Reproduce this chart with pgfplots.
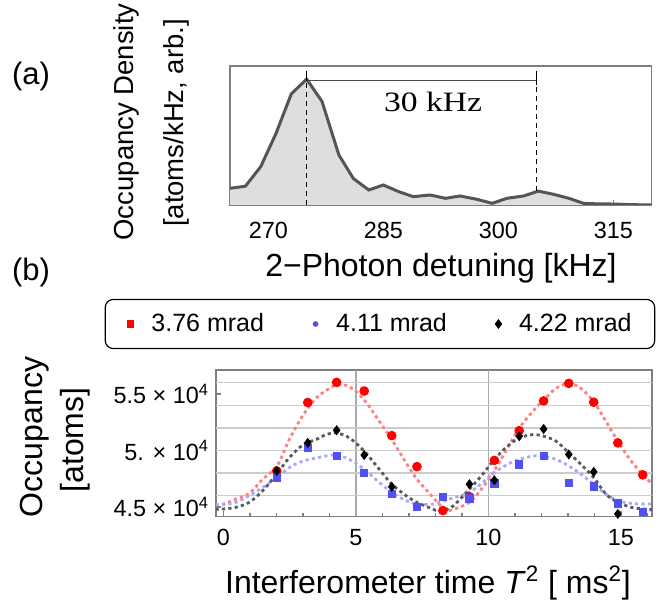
\documentclass[border=0pt]{standalone}
\usepackage{fontspec}
\setmainfont{Liberation Sans}
\newfontfamily\timesfont{Liberation Serif}
\usepackage{pgfplots}
\usepackage{pgfplotstable}
\pgfplotsset{compat=1.18}

\definecolor{MRed}{HTML}{FF0000}
\definecolor{MRedFit}{HTML}{FF8080}
\definecolor{MBlue}{HTML}{5050F5}
\definecolor{MBlueFit}{HTML}{A8A8FF}
\definecolor{MGrayFit}{HTML}{5A5A5A}
\definecolor{Frame}{HTML}{7F7F7F}
\definecolor{GridH}{HTML}{CCCCCC}
\definecolor{GridV}{HTML}{AAAAAA}
\definecolor{Spec}{HTML}{555555}
\definecolor{SpecFill}{HTML}{DEDEDE}

\newcommand{\tickfont}{\fontsize{11.7}{13}\selectfont}
\newcommand{\labfont}{\fontsize{16}{19}\selectfont}

% spectrum, panel (a)
\pgfplotstableread{
khz val
265 0.12
267 0.135
269 0.275
271 0.515
273 0.80
275 0.905
277 0.745
279.2 0.36
281.1 0.19
283.1 0.108
285 0.144
287 0.096
288.9 0.06
291.1 0.072
293.1 0.048
295 0.065
297.2 0.041
299.2 0.012
301.1 0.048
303.3 0.065
305.2 0.10
307.2 0.077
309.2 0.048
311.1 0.012
313 0.008
315 0.007
317 0.003
320 0.0
}\spectrum

% measured occupancy, panel (b)
\pgfplotstableread{
t red blue
2.01 48190 47545
3.18 54245 50237
4.27 56025 49509
5.31 55262 48044
6.35 51316 46141
7.30 48570 44975
8.28 44685 45913
9.28 45913 45764
10.22 49123 47080
11.16 51754 48772
12.08 54385 49509
13.03 55937 47167
13.97 54271 46816
14.88 50675 45325
15.82 47843 44536
}\occ

\pgfplotstableread{
t black
2.01 48193
3.18 50675
4.27 51789
5.31 49596
6.35 46790
9.28 47018
10.22 47369
11.16 51263
12.08 51903
13.03 49649
13.97 48106
14.88 44387
}\occblack

% fitted curves
\pgfplotstableread{
t red
-0.3 45200
0 45264
0.47 45700
0.97 46200
1.48 47457
2.02 48632
2.48 50965
3.01 53157
3.49 54622
3.87 55300
4.27 55788
4.75 55648
5.31 54473
5.88 52578
6.35 50965
6.89 48921
7.30 47457
7.89 45900
8.2 45100
8.52 44690
9.28 45413
9.78 46729
10.22 48193
10.72 50237
11.16 51991
11.67 53455
12.08 54473
12.55 55500
13.03 55937
13.49 55500
13.97 54330
14.43 52578
14.88 50824
15.38 49070
15.82 47895
16.3 46729
}\fitred

\pgfplotstableread{
t blue
-0.3 45200
0 45211
0.47 45413
0.97 46000
1.48 46729
2.02 47606
2.48 48483
3.01 49070
3.87 49509
4.27 49597
4.75 49211
5.31 48334
5.88 47167
6.35 46290
6.89 45562
7.30 45264
7.89 45250
8.52 45700
9.28 46290
9.78 47167
10.22 48044
10.72 48772
11.16 49211
11.67 49509
12.08 49509
12.55 49211
13.03 48632
13.49 47895
13.97 47018
14.43 46141
14.88 45562
15.38 45325
15.82 45264
16.3 45264
}\fitblue

\pgfplotstableread{
t black
-0.3 44800
0 44826
0.47 44975
0.97 45413
1.48 46440
2.02 47957
2.48 49360
3.01 50526
3.49 50965
3.87 51403
4.27 51552
4.75 51114
5.31 49947
5.88 48334
6.35 47018
6.89 46000
7.30 45413
7.89 44826
8.1 44685
8.6 44975
9.28 46580
9.78 47895
10.22 49211
10.72 50386
11.16 51114
11.67 51403
12.08 51263
12.55 50824
13.03 49800
13.49 48772
13.97 47606
14.43 46141
14.88 45413
15.38 44975
15.82 44826
16.3 44738
}\fitblack

\begin{document}
\begin{tikzpicture}
\path[use as bounding box] (0pt,0pt) rectangle (332pt,-304pt);

% ---- panel (a) ----
\begin{axis}[
  at={(115pt,-102.5pt)}, anchor=south west,
  scale only axis, width=210.85pt, height=69.5pt,
  xmin=265, xmax=320, ymin=0, ymax=1,
  axis line style={Frame, line width=0.75pt},
  xtick={270,285,300,315}, ytick=\empty,
  tick align=inside, xtick pos=left, major tick length=2.5pt,
  tick style={Frame, line width=0.6pt},
  xticklabel style={font=\tickfont, yshift=-5pt},
  /pgf/number format/assume math mode=true,
]
\addplot[draw=none, fill=SpecFill] table[x=khz, y=val] {\spectrum} \closedcycle;
\addplot[draw=Spec, line width=1.5pt] table[x=khz, y=val] {\spectrum};
\addplot[black, line width=0.5pt, dash pattern=on 2.5pt off 2pt] coordinates {(275,0) (275,0.895)};
\addplot[black, line width=0.6pt] coordinates {(275,0.895) (275,0.965)};
\addplot[black!70, line width=0.45pt] coordinates {(275,0.895) (305,0.895)};
\addplot[black, line width=0.5pt, dash pattern=on 2.5pt off 2pt] coordinates {(305,0.10) (305,0.86)};
\addplot[black, line width=0.6pt] coordinates {(305,0.86) (305,0.965)};
\node[font=\timesfont\fontsize{14}{16}\selectfont, xscale=1.2] at (axis cs:291.5,0.74) {30 kHz};
\end{axis}

% ---- panel (b) ----
\begin{axis}[
  at={(108pt,-258.25pt)}, anchor=south west,
  scale only axis, width=218pt, height=73.25pt,
  xmin=-0.283, xmax=16.17, ymin=44160, ymax=57120,
  axis line style={Frame, line width=0.75pt},
  xtick={0,5,10,15}, minor xtick={1,2,3,4,6,7,8,9,11,12,13,14,16},
  ytick={45000,50000,55000},
  yticklabels={{4.5 × 10\textsuperscript{4}},{5. × 10\textsuperscript{4}},{5.5 × 10\textsuperscript{4}}},
  scaled y ticks=false,
  extra x ticks={5,10}, extra x tick labels={},
  extra x tick style={grid=major, major grid style={GridV, line width=0.6pt}, major tick length=0pt},
  extra y ticks={46000,48000,50000,52000,54000,56000}, extra y tick labels={},
  extra y tick style={grid=major, major grid style={GridH, line width=0.75pt}, major tick length=0pt},
  tick align=inside, xtick pos=left, ytick pos=left,
  major tick length=2.5pt, minor tick length=1.5pt,
  tick style={Frame, line width=0.6pt},
  xticklabel style={font=\tickfont, yshift=-3pt},
  yticklabel style={font=\tickfont},
  /pgf/number format/assume math mode=true,
  legend columns=3,
  legend image code/.code={\path (-3pt,0pt) (3pt,0pt); \draw[#1, sharp corners] plot coordinates {(0pt,0pt)};},
  legend style={at={(0.376,1.314)}, anchor=center, draw=black, line width=0.6pt,
    rounded corners=4pt, font=\fontsize{12.5}{14}\selectfont,
    inner xsep=9.5pt, inner ysep=5pt,
    /tikz/every odd column/.append style={column sep=5pt},
    /tikz/every even column/.append style={column sep=20.5pt}},
]
\addplot[forget plot, MRedFit, line width=1.4pt, dash pattern=on 1.6pt off 1.6pt, smooth] table[x=t, y=red] {\fitred};
\addplot[forget plot, MBlueFit, line width=1.4pt, dash pattern=on 1.6pt off 1.6pt, smooth] table[x=t, y=blue] {\fitblue};
\addplot[forget plot, MGrayFit, line width=1.4pt, dash pattern=on 1.6pt off 1.6pt, smooth] table[x=t, y=black] {\fitblack};
\addplot[forget plot, only marks, mark=*, mark size=2.2pt, MRed] table[x=t, y=red] {\occ};
\addplot[forget plot, only marks, mark=square*, mark size=1.8pt, MBlue] table[x=t, y=blue] {\occ};
\addplot[forget plot, only marks, mark=diamond*, mark size=2.2pt, black] table[x=t, y=black] {\occblack};
\addlegendimage{only marks, mark=square*, mark size=1.5pt, MRed}
\addlegendentry{3.76 mrad}
\addlegendimage{only marks, mark=*, mark size=1.1pt, MBlue}
\addlegendentry{4.11 mrad}
\addlegendimage{only marks, mark=diamond*, mark size=2pt, black}
\addlegendentry{4.22 mrad}
\end{axis}

% ---- labels ----
\node[font=\fontsize{15.5}{18}\selectfont] at (15.5pt,-38pt) {(a)};
\node[font=\fontsize{15.5}{18}\selectfont] at (15.5pt,-136pt) {(b)};
\node[rotate=90, font=\fontsize{13.75}{16}\selectfont] at (63pt,-61pt) {Occupancy Density};
\node[rotate=90, font=\fontsize{13.75}{16}\selectfont] at (88pt,-61.5pt) {[atoms/kHz, arb.]};
\node[font=\labfont] at (220.5pt,-134pt) {2−Photon detuning [kHz]};
\node[rotate=90, font=\labfont] at (17.5pt,-218.5pt) {Occupancy};
\node[rotate=90, font=\labfont] at (37.5pt,-220pt) {[atoms]};
\node[font=\labfont] at (214pt,-291.5pt) {Interferometer time \textit{T}\textsuperscript{2} [ ms\textsuperscript{2}]};
\end{tikzpicture}
\end{document}
